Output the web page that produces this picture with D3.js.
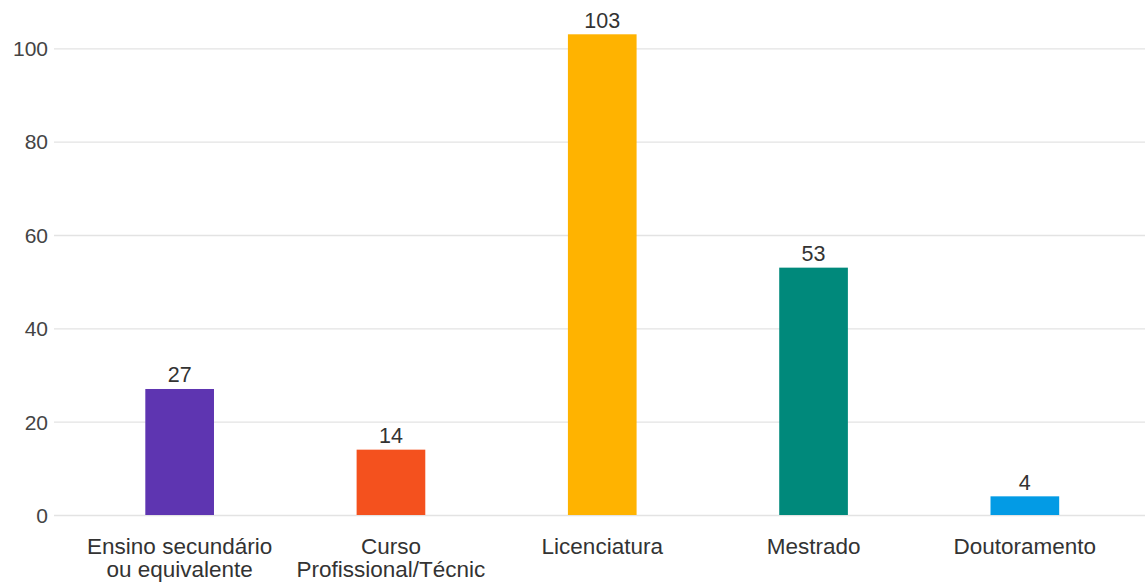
<!DOCTYPE html>
<html>
<head>
<meta charset="utf-8">
<script src="https://cdn.jsdelivr.net/npm/d3@7"></script>
<style>
  html, body { margin: 0; padding: 0; background: #fff; }
  svg { display: block; font-family: "Liberation Sans", Arial, sans-serif; }
</style>
</head>
<body>
<svg id="chart" width="1145" height="585"></svg>
<script>
const categories = [
  ["Ensino secundário", "ou equivalente"],
  ["Curso", "Profissional/Técnic"],
  ["Licenciatura"],
  ["Mestrado"],
  ["Doutoramento"]
];
const values = [27, 14, 103, 53, 4];
const colors = ["#5e35b1", "#f4511e", "#ffb300", "#00897b", "#039be5"];
const yTicks = [0, 20, 40, 60, 80, 100];

const svg = d3.select("#chart");
const keys = categories.map(c => c.join(" "));

const x = d3.scaleBand()
  .domain(keys)
  .range([74, 1130.5])
  .paddingInner(0.675)
  .paddingOuter(0.3375);

const y = d3.scaleLinear()
  .domain([0, 100])
  .range([515, 48.3]);

// gridlines
const yAxis = d3.axisLeft(y).tickValues(yTicks).tickSize(0).tickPadding(6);
const gy = svg.append("g").attr("transform", "translate(54,0)").call(yAxis);
gy.select(".domain").remove();
gy.selectAll("text")
  .attr("fill", "#444")
  .style("font-size", "21px")
  .attr("dy", "0.35em");
gy.selectAll(".tick").append("line")
  .attr("x1", 0).attr("x2", 1145 - 54)
  .attr("stroke", "#e3e3e3").attr("stroke-width", 1.3);

// bars
svg.append("g").selectAll("rect")
  .data(values)
  .join("rect")
  .attr("x", (d, i) => x(keys[i]))
  .attr("width", x.bandwidth())
  .attr("y", d => y(d))
  .attr("height", d => y(0) - y(d))
  .attr("fill", (d, i) => colors[i]);

// value labels
svg.append("g").selectAll("text")
  .data(values)
  .join("text")
  .attr("x", (d, i) => x(keys[i]) + x.bandwidth() / 2)
  .attr("y", d => y(d) - 6.5)
  .attr("text-anchor", "middle")
  .attr("fill", "#333")
  .style("font-size", "21.5px")
  .text(d => d);

// category labels (x axis)
const xAxis = d3.axisBottom(x).tickSize(0).tickFormat("");
const gx = svg.append("g").attr("transform", "translate(0,515)").call(xAxis);
gx.select(".domain").remove();
gx.selectAll(".tick").each(function(k, i) {
  const t = d3.select(this).append("text")
    .attr("text-anchor", "middle")
    .attr("fill", "#333")
    .style("font-size", "22.5px");
  categories[i].forEach((line, j) => {
    t.append("tspan").attr("x", 0).attr("y", 39 + j * 23).text(line);
  });
});
</script>
</body>
</html>
